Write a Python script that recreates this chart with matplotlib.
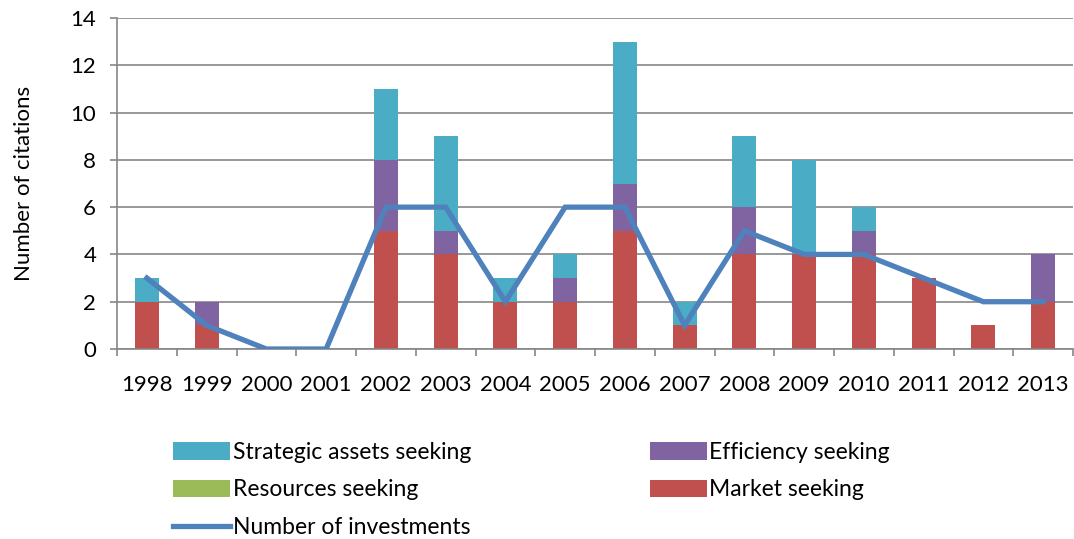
import matplotlib
matplotlib.use("Agg")
import matplotlib.pyplot as plt
import numpy as np

years = ["1998", "1999", "2000", "2001", "2002", "2003", "2004", "2005",
         "2006", "2007", "2008", "2009", "2010", "2011", "2012", "2013"]
market = [2, 1, 0, 0, 5, 4, 2, 2, 5, 1, 4, 4, 4, 3, 1, 2]
resources = [0, 0, 0, 0, 0, 0, 0, 0, 0, 0, 0, 0, 0, 0, 0, 0]
efficiency = [0, 1, 0, 0, 3, 1, 0, 1, 2, 0, 2, 0, 1, 0, 0, 2]
strategic = [1, 0, 0, 0, 3, 4, 1, 1, 6, 1, 3, 4, 1, 0, 0, 0]
investments = [3, 1, 0, 0, 6, 6, 2, 6, 6, 1, 5, 4, 4, 3, 2, 2]

plt.rcParams['font.family'] = ['Lato', 'DejaVu Sans']

fig = plt.figure(figsize=(10.74, 5.39), dpi=100)
ax = fig.add_axes([117/1074, 1 - 349/539, (1073-117)/1074, (349-18)/539])

x = np.arange(len(years))
w = 0.4
m = np.array(market); r = np.array(resources); e = np.array(efficiency); s = np.array(strategic)
b_market = ax.bar(x, m, w, color="#C0504D", zorder=2, label="Market seeking")
b_res = ax.bar(x, r, w, bottom=m, color="#9BBB59", zorder=2, label="Resources seeking")
b_eff = ax.bar(x, e, w, bottom=m + r, color="#8064A2", zorder=2, label="Efficiency seeking")
b_str = ax.bar(x, s, w, bottom=m + r + e, color="#4BACC6", zorder=2, label="Strategic assets seeking")
ln, = ax.plot(x, investments, color="#4F81BD", lw=3.8, zorder=3, label="Number of investments",
              solid_joinstyle="miter")

ax.set_xlim(-0.5, len(years) - 0.5)
ax.set_ylim(0, 14)
ax.set_yticks(range(0, 15, 2))
ax.yaxis.grid(True, color="#868686", lw=1.2, zorder=0)
ax.set_axisbelow(True)
for sp in ["top", "right"]:
    ax.spines[sp].set_visible(False)
for sp in ["left", "bottom"]:
    ax.spines[sp].set_color("#868686")
    ax.spines[sp].set_linewidth(1.2)

ax.set_xticks(x)
ax.set_xticklabels(years)
ax.set_xticks(np.arange(-0.5, len(years)), minor=True)
ax.tick_params(axis="x", which="major", length=0, pad=19, labelsize=16)
ax.tick_params(axis="x", which="minor", length=5, color="#868686", width=1.2)
ax.tick_params(axis="y", length=5, color="#868686", width=1.2, labelsize=16, pad=10)
ax.set_ylabel("Number of citations", fontsize=16, labelpad=26)

handles = [b_str, b_res, ln, b_eff, b_market]
labels = [h.get_label() for h in handles]
fig.legend(handles, labels, ncol=2, loc="upper left", bbox_to_anchor=(173/1074, 1 - 442/539),
           frameon=False, fontsize=16.5, handlelength=2.5, handleheight=0.8,
           labelspacing=0.72, columnspacing=7.8, handletextpad=0.1, borderaxespad=0,
           borderpad=0)

fig.savefig("out.png", dpi=100)
